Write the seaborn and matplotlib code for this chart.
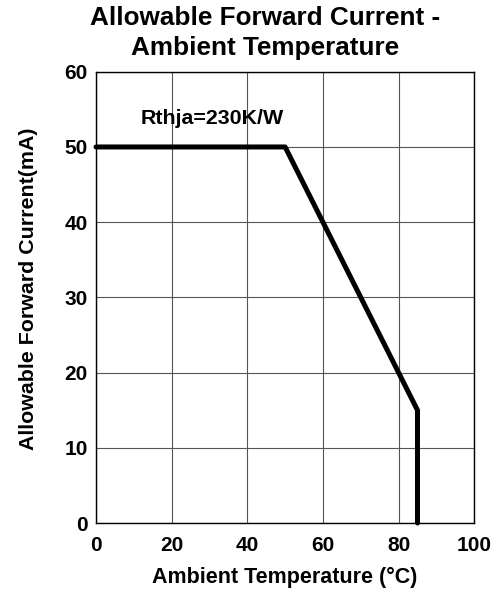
import matplotlib
matplotlib.use("Agg")
import matplotlib.pyplot as plt
import seaborn as sns
import pandas as pd

temperature = [0, 50, 85, 85]
current = [50, 50, 15, 0]
x_ticks = [0, 20, 40, 60, 80, 100]
y_ticks = [0, 10, 20, 30, 40, 50, 60]
title_lines = ["Allowable Forward Current -", "Ambient Temperature"]

sns.set_theme(style="white")
plt.rcParams['font.family'] = ['Liberation Sans', 'DejaVu Sans']
plt.rcParams['font.weight'] = 'bold'

df = pd.DataFrame({"t": temperature, "i": current})

fig = plt.figure(figsize=(4.95, 5.93), dpi=100)
ax = fig.add_axes([0.194, 0.118, 0.764, 0.761])

sns.lineplot(data=df, x="t", y="i", sort=False, estimator=None, errorbar=None,
             color="black", linewidth=3.6, ax=ax, clip_on=False, zorder=5)

ax.set_xlim(0, 100)
ax.set_ylim(0, 60)
ax.set_xticks(x_ticks)
ax.set_yticks(y_ticks)
ax.grid(True, color="#555555", linewidth=0.8)
for s in ax.spines.values():
    s.set_color("black")
    s.set_linewidth(1.0)
ax.tick_params(axis="x", length=0, labelsize=15, pad=9, colors="black")
ax.tick_params(axis="y", length=0, labelsize=15, pad=6, colors="black")
for lab in ax.get_xticklabels() + ax.get_yticklabels():
    lab.set_fontweight("bold")

ax.set_xlabel("Ambient Temperature (°C)", fontsize=15.5, fontweight="bold", labelpad=9, color="black")
ax.set_ylabel("Allowable Forward Current(mA)", fontsize=15.4, fontweight="bold", labelpad=19, color="black")
ax.yaxis.label.set_y(0.519)

fig.text(0.536, 0.958, title_lines[0], fontsize=18.8, fontweight="bold",
         color="black", ha="center", va="baseline")
fig.text(0.536, 0.907, title_lines[1], fontsize=18.8, fontweight="bold",
         color="black", ha="center", va="baseline")

ax.text(11.9, 53.1, "Rthja=230K/W", fontsize=15.4, fontweight="bold", color="black")

fig.savefig("out.png", dpi=100)
